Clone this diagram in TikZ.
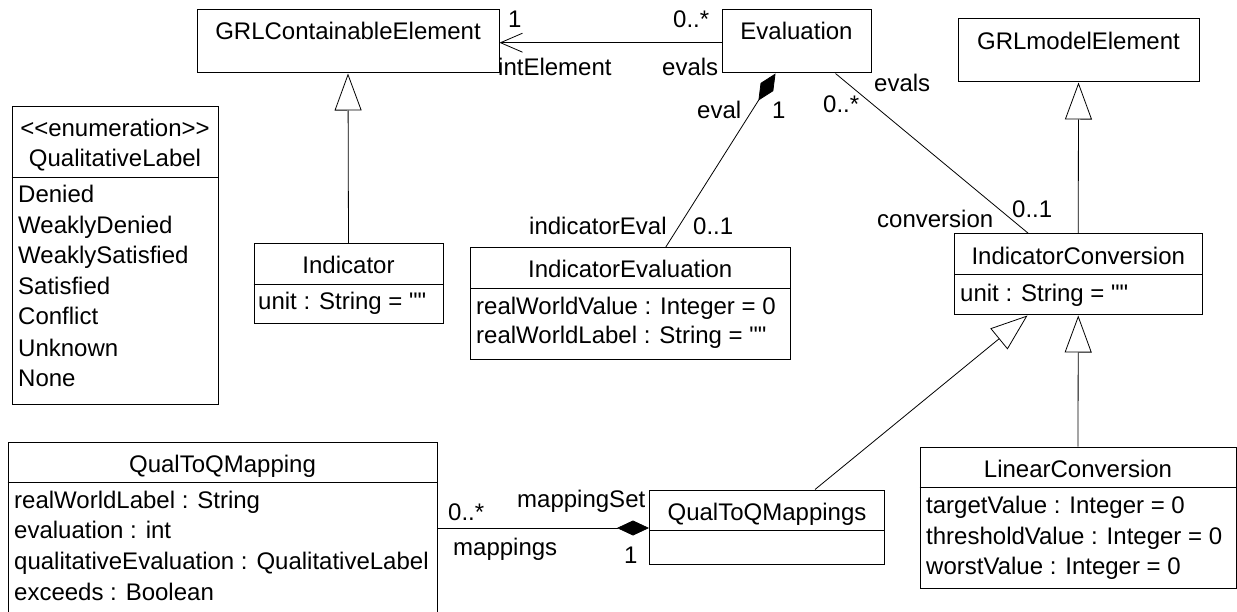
\documentclass[tikz,border=0pt]{standalone}
\usepackage{fontspec}
\setmainfont{Liberation Sans}[Ligatures=TeXOff]
\usetikzlibrary{arrows.meta,calc}
\tikzset{
  cls/.style={draw=black, line width=1pt, inner sep=0pt, fill=white},
  ttl/.style={anchor=base, inner sep=0pt},
  attr/.style={anchor=base west, inner sep=0pt},
  lbl/.style={anchor=base west, inner sep=0pt},
  conn/.style={draw=black, line width=0.8pt},
  assocarrow/.style={conn, -{Straight Barb[length=22pt,width=19pt,line width=0.8pt]}},
  gen/.style={conn, -{Triangle[open,length=37pt,width=27pt,fill=white,line width=0.8pt]}},
  comp/.style={conn, -{Diamond[length=32pt,width=15pt,fill=black]}},
  divider/.style={draw=black, line width=1pt}
}
\begin{document}
\begin{tikzpicture}[x=1pt,y=-1pt,font=\fontsize{24}{28}\selectfont]
\useasboundingbox (0,0) rectangle (1237,612);
\fill[white] (0,0) rectangle (1237,612);

% class boxes
\node[cls, minimum width=302pt, minimum height=63pt] (grl) at (348,41.5) {};
\node[cls, minimum width=149pt, minimum height=63pt] (eval) at (796.5,41.5) {};
\node[cls, minimum width=241pt, minimum height=63pt] (grlm) at (1078.5,50.5) {};
\node[cls, minimum width=206pt, minimum height=297pt] (qlab) at (115,255.5) {};
\node[cls, minimum width=189pt, minimum height=80pt] (ind) at (348.5,284) {};
\node[cls, minimum width=319.5pt, minimum height=111pt] (ieval) at (630.25,303.5) {};
\node[cls, minimum width=247.5pt, minimum height=81pt] (iconv) at (1078.25,274.5) {};
\node[cls, minimum width=316pt, minimum height=141pt] (lin) at (1078,517.5) {};
\node[cls, minimum width=235pt, minimum height=74pt] (qtqs) at (767,527) {};
\node[cls, minimum width=429pt, minimum height=172pt] (qtq) at (222.5,528) {};

% compartment dividers
\draw[divider] (qlab.west |- 0,178) -- (qlab.east |- 0,178);
\draw[divider] (ind.west |- 0,285) -- (ind.east |- 0,285);
\draw[divider] (ieval.west |- 0,289) -- (ieval.east |- 0,289);
\draw[divider] (iconv.west |- 0,275) -- (iconv.east |- 0,275);
\draw[divider] (lin.west |- 0,487) -- (lin.east |- 0,487);
\draw[divider] (qtqs.west |- 0,530) -- (qtqs.east |- 0,530);
\draw[divider] (qtq.west |- 0,482) -- (qtq.east |- 0,482);

% class texts
\node[ttl] (grlT) at (348,40) {GRLContainableElement};
\node[ttl] (evalT) at (796.5,40) {Evaluation};
\node[ttl] (grlmT) at (1078.5,50) {GRLmodelElement};

\node[ttl] (qlabS) at (115,137) {<<enumeration>>};
\node[ttl] (qlabT) at (115,167) {QualitativeLabel};
\node[attr] (ql1) at (18,203) {Denied};
\node[attr] (ql2) at (18,234) {WeaklyDenied};
\node[attr] (ql3) at (18,264) {WeaklySatisfied};
\node[attr] (ql4) at (18,295) {Satisfied};
\node[attr] (ql5) at (18,325) {Conflict};
\node[attr] (ql6) at (18,356) {Unknown};
\node[attr] (ql7) at (18,386) {None};

\node[ttl] (indT) at (348.5,274) {Indicator};
\node[attr] (indA) at (258,310) {unit : String = ""};

\node[ttl] (ievalT) at (630.25,278) {IndicatorEvaluation};
\node[attr] (ievalA1) at (476,315) {realWorldValue : Integer = 0};
\node[attr] (ievalA2) at (476,344) {realWorldLabel : String = ""};

\node[ttl] (iconvT) at (1078.25,265) {IndicatorConversion};
\node[attr] (iconvA) at (960,302) {unit : String = ""};

\node[ttl] (linT) at (1078,477) {LinearConversion};
\node[attr] (linA1) at (926,513) {targetValue : Integer = 0};
\node[attr] (linA2) at (926,544) {thresholdValue : Integer = 0};
\node[attr] (linA3) at (926,574) {worstValue : Integer = 0};

\node[ttl] (qtqsT) at (767,520) {QualToQMappings};

\node[ttl] (qtqT) at (222.5,472) {QualToQMapping};
\node[attr] (qtqA1) at (14,508) {realWorldLabel : String};
\node[attr] (qtqA2) at (14,538) {evaluation : int};
\node[attr] (qtqA3) at (14,569) {qualitativeEvaluation : QualitativeLabel};
\node[attr] (qtqA4) at (14,600) {exceeds : Boolean};

% connectors
\draw[assocarrow] (eval.west |- 0,42.7) -- (grl.east |- 0,42.7);
\draw[comp] ($(ieval.north west)+(195.5,0)$) -- ($(eval.south west)+(54,0)$);
\draw[conn] ($(eval.south west)+(114,0)$) -- ($(iconv.north west)+(74.5,0)$);
\draw[gen] (ind.north) -- (grl.south);
\draw[gen] (iconv.north) -- (grlm.south);
\draw[gen] (lin.north) -- (iconv.south);
\draw[gen] ($(qtqs.north west)+(166,0)$) -- ($(iconv.south west)+(73.5,0)$);
\draw[comp] (qtq.east |- 0,528) -- (qtqs.west |- 0,528);

% role and multiplicity labels
\node[lbl] (m1) at (508,28) {1};
\node[lbl] (r1) at (498,76) {intElement};
\node[lbl] (m2) at (673,28) {0..*};
\node[lbl] (r2) at (662,76) {evals};
\node[lbl] (r3) at (697,119) {eval};
\node[lbl] (m3) at (772,119) {1};
\node[lbl] (r4) at (874,92) {evals};
\node[lbl] (m4) at (823,113) {0..*};
\node[lbl] (r5) at (529,235) {indicatorEval};
\node[lbl] (m5) at (693,235) {0..1};
\node[lbl] (r6) at (877,228) {conversion};
\node[lbl] (m6) at (1012,218) {0..1};
\node[lbl] (m7) at (448,520) {0..*};
\node[lbl] (r7) at (517,507) {mappingSet};
\node[lbl] (r8) at (453,555) {mappings};
\node[lbl] (m8) at (624,563) {1};
\end{tikzpicture}
\end{document}
